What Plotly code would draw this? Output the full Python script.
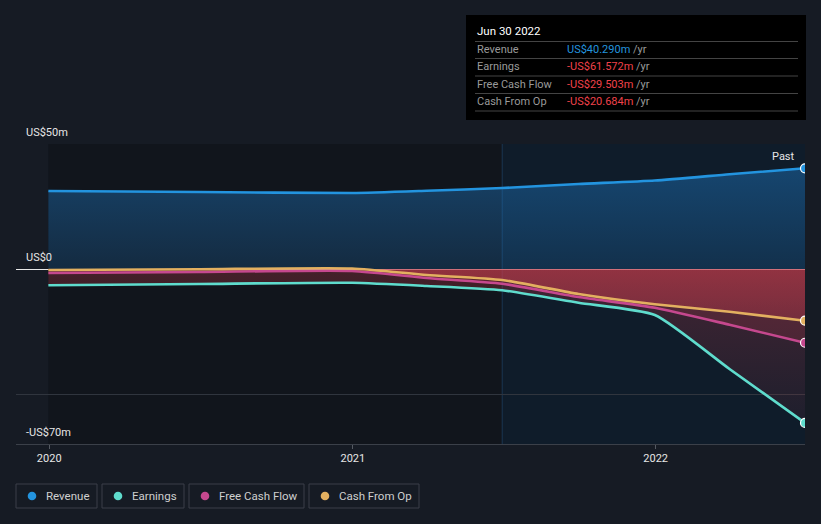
import plotly.graph_objects as go

# ---------------- data ----------------
dates = ["2019-12-31", "2020-06-30", "2020-12-31", "2021-03-31", "2021-06-30",
         "2021-09-30", "2021-12-31", "2022-03-31", "2022-06-30"]
revenue = [31.2, 30.8, 30.4, 31.3, 32.4, 34.0, 35.4, 37.9, 40.29]
earnings = [-6.5, -6.0, -5.5, -6.8, -8.5, -13.5, -18.4, -40.0, -61.572]
free_cash_flow = [-1.6, -1.2, -0.8, -3.6, -5.9, -11.2, -15.5, -22.3, -29.503]
cash_from_op = [-0.4, -0.1, 0.2, -2.4, -4.4, -10.0, -14.1, -17.1, -20.684]

series_names = ["Revenue", "Earnings", "Free Cash Flow", "Cash From Op"]
series_colors = ["#2394df", "#5fdccd", "#c5488e", "#e3b060"]
tooltip_date = "Jun 30 2022"
tooltip_values = ["US$40.290m", "-US$61.572m", "-US$29.503m", "-US$20.684m"]
tooltip_colors = ["#2394df", "#f0424b", "#f0424b", "#f0424b"]
y_labels = [(50, "US$50m"), (0, "US$0"), (-70, "-US$70m")]
x_ticks = ["2020-01-01", "2021-01-01", "2022-01-01"]
x_tick_text = ["2020", "2021", "2022"]
highlight_start = "2021-06-30"

# ---------------- geometry ----------------
W, H = 821, 524
ML, MR, MT, MB = 16, 16, 144, 80
PW, PH = W - ML - MR, H - MT - MB


def px(x):
    return (x - ML) / PW


def py(y):
    return (H - MB - y) / PH


BG = "#161b24"
FONT = "Roboto"
SM = 0.55

fig = go.Figure()

# fills (drawn first)
fig.add_trace(go.Scatter(
    x=dates, y=revenue, mode="lines", line=dict(width=0, shape="spline", smoothing=SM),
    fill="tozeroy",
    fillgradient=dict(type="vertical", start=0, stop=40,
                      colorscale=[[0, "rgba(30,120,195,0.22)"], [1, "rgba(30,120,195,0.45)"]]),
    hoverinfo="skip", showlegend=False))
fig.add_trace(go.Scatter(
    x=dates, y=earnings, mode="lines", line=dict(width=0, shape="spline", smoothing=SM),
    fill="tozeroy",
    fillgradient=dict(type="vertical", start=-62, stop=0,
                      colorscale=[[0, "rgba(200,60,75,0.08)"], [1, "rgba(200,60,75,0.28)"]]),
    hoverinfo="skip", showlegend=False))
fig.add_trace(go.Scatter(
    x=dates, y=free_cash_flow, mode="lines", line=dict(width=0, shape="spline", smoothing=SM),
    fill="tozeroy", fillcolor="rgba(200,60,75,0.18)",
    hoverinfo="skip", showlegend=False))
fig.add_trace(go.Scatter(
    x=dates, y=cash_from_op, mode="lines", line=dict(width=0, shape="spline", smoothing=SM),
    fill="tozeroy",
    fillgradient=dict(type="vertical", start=-21, stop=0,
                      colorscale=[[0, "rgba(200,60,75,0.30)"], [1, "rgba(200,60,75,0.50)"]]),
    hoverinfo="skip", showlegend=False))

# lines
all_series = [revenue, earnings, free_cash_flow, cash_from_op]
for vals, name, col in zip(all_series, series_names, series_colors):
    fig.add_trace(go.Scatter(x=dates, y=vals, mode="lines", name=name,
                             line=dict(color=col, width=2.6, shape="spline", smoothing=SM),
                             showlegend=False))
# end markers
for vals, name, col in zip(all_series, series_names, series_colors):
    fig.add_trace(go.Scatter(x=[dates[-1]], y=[vals[-1]], mode="markers",
                             marker=dict(color=col, size=9, line=dict(color="white", width=1.2)),
                             showlegend=False, hoverinfo="skip"))

shapes = []
# background regions
shapes.append(dict(type="rect", xref="x", yref="paper", x0=dates[0], x1=highlight_start,
                   y0=0, y1=1, fillcolor="#11151c", line=dict(width=0), layer="below"))
shapes.append(dict(type="rect", xref="x", yref="paper", x0=highlight_start, x1=dates[-1],
                   y0=0, y1=1, fillcolor="#0f1c2a", line=dict(width=0), layer="below"))
shapes.append(dict(type="line", xref="x", yref="paper", x0=highlight_start, x1=highlight_start,
                   y0=0, y1=1, line=dict(color="rgba(40,90,140,0.45)", width=1), layer="below"))

annotations = []
for val, txt in y_labels:
    ypix = H - MB - (val + 70) / 120 * PH
    annotations.append(dict(x=px(24), y=py(ypix - 12), xref="paper", yref="paper",
                            text=txt, showarrow=False, xanchor="left", yanchor="middle",
                            font=dict(family=FONT, size=11, color="#e6e6e6")))
annotations.append(dict(x=px(797), y=py(156), xref="paper", yref="paper", text="Past",
                        showarrow=False, xanchor="right", yanchor="middle",
                        font=dict(family=FONT, size=11, color="#e6e6e6")))

# tooltip box
shapes.append(dict(type="rect", xref="paper", yref="paper", x0=px(466), x1=px(806),
                   y0=py(120), y1=py(15), fillcolor="#000000", line=dict(width=0)))
for ly in [41.5, 58.5, 76, 93.5, 111]:
    shapes.append(dict(type="line", xref="paper", yref="paper", x0=px(475), x1=px(798),
                       y0=py(ly), y1=py(ly), line=dict(color="#444444", width=1)))
annotations.append(dict(x=px(475), y=py(31), xref="paper", yref="paper", text=tooltip_date,
                        showarrow=False, xanchor="left", yanchor="middle",
                        font=dict(family=FONT, size=11.5, color="#ffffff")))
row_y = [49.5, 66.8, 84.2, 101.5]
for name, val, col, ry in zip(series_names, tooltip_values, tooltip_colors, row_y):
    annotations.append(dict(x=px(475), y=py(ry), xref="paper", yref="paper", text=name,
                            showarrow=False, xanchor="left", yanchor="middle",
                            font=dict(family=FONT, size=11, color="#9a9a9a")))
    annotations.append(dict(x=px(565), y=py(ry), xref="paper", yref="paper",
                            text=f"<span style='color:{col}'>{val}</span> <span style='color:#9a9a9a'>/yr</span>",
                            showarrow=False, xanchor="left", yanchor="middle",
                            font=dict(family=FONT, size=11, color=col)))

# legend boxes
boxes = [(16, 97, 32, 44), (102, 184, 118, 130), (189, 304, 205, 217), (309, 419, 325, 337)]
for (bx0, bx1, dx, tx), name, col in zip(boxes, series_names, series_colors):
    shapes.append(dict(type="rect", xref="paper", yref="paper", x0=px(bx0), x1=px(bx1),
                       y0=py(508), y1=py(484), line=dict(color="#3a3f48", width=1),
                       fillcolor="rgba(0,0,0,0)"))
    r = 4.3
    shapes.append(dict(type="circle", xref="paper", yref="paper", x0=px(dx - r), x1=px(dx + r),
                       y0=py(496 + r), y1=py(496 - r), fillcolor=col, line=dict(width=0)))
    annotations.append(dict(x=px(tx), y=py(496), xref="paper", yref="paper", text=name,
                            showarrow=False, xanchor="left", yanchor="middle",
                            font=dict(family=FONT, size=11.5, color="#cfcfcf")))

fig.update_layout(
    width=W, height=H, margin=dict(l=ML, r=MR, t=MT, b=MB),
    paper_bgcolor=BG, plot_bgcolor=BG,
    shapes=shapes, annotations=annotations, showlegend=False,
    font=dict(family=FONT, color="#e6e6e6"),
    xaxis=dict(range=["2019-11-22", "2022-06-30"], showgrid=False, zeroline=False,
               tickvals=x_ticks, ticktext=x_tick_text, ticks="outside", ticklen=4,
               tickcolor="#555a62", tickfont=dict(family=FONT, size=11, color="#e6e6e6"),
               showline=True, linecolor="#3b4049", linewidth=1),
    yaxis=dict(range=[-70, 50], tickvals=[-50, 50], showticklabels=False, showgrid=True,
               gridcolor="#30353e", gridwidth=1, zeroline=True, zerolinecolor="#e8e8e8",
               zerolinewidth=1, showline=False),
)

fig.write_html("out.html")
